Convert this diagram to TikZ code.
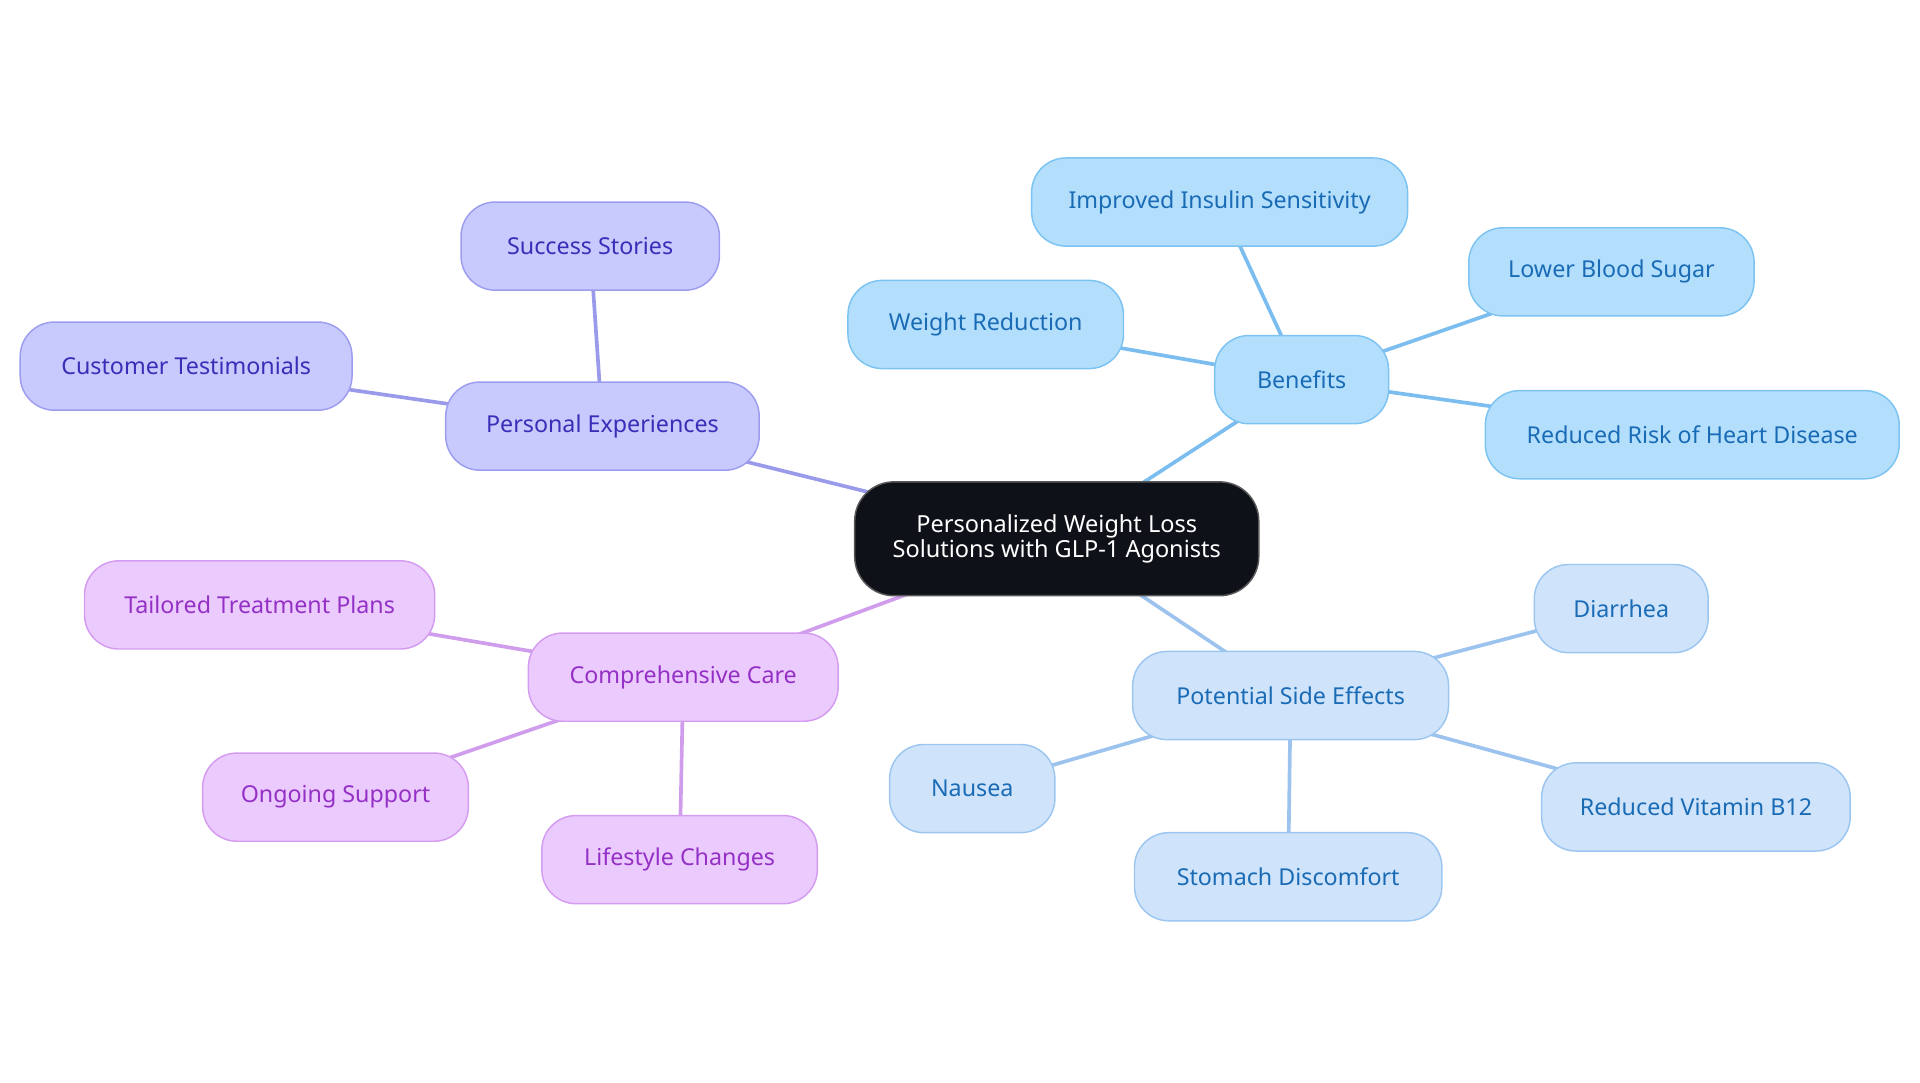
\documentclass[tikz,border=0pt]{standalone}
\usepackage{fontspec}
\setmainfont{Noto Sans}
\usetikzlibrary{backgrounds}
\definecolor{bfill}{HTML}{B3DFFD}
\definecolor{bdraw}{HTML}{7CC3F2}
\definecolor{bline}{HTML}{7BBDEE}
\definecolor{btext}{HTML}{1A6BB5}
\definecolor{sfill}{HTML}{CFE4FB}
\definecolor{sdraw}{HTML}{9CC6F0}
\definecolor{sline}{HTML}{9CC3EE}
\definecolor{pfill}{HTML}{C8C9FD}
\definecolor{pdraw}{HTML}{9D9DF0}
\definecolor{pline}{HTML}{9A9AEA}
\definecolor{ptext}{HTML}{3A2DB8}
\definecolor{cfill}{HTML}{EBCBFD}
\definecolor{cdraw}{HTML}{D49CF0}
\definecolor{cline}{HTML}{CF9DEC}
\definecolor{ctext}{HTML}{9430C6}
\definecolor{rootfill}{HTML}{0E1218}
\tikzset{
  box/.style={rounded corners=28pt, minimum height=72pt, inner sep=0pt, line width=1.2pt, font=\fontsize{19}{23}\selectfont},
  ben/.style={box, fill=bfill, draw=bdraw, text=btext},
  side/.style={box, fill=sfill, draw=sdraw, text=btext},
  pers/.style={box, fill=pfill, draw=pdraw, text=ptext},
  care/.style={box, fill=cfill, draw=cdraw, text=ctext},
  lnb/.style={draw=bline, line width=3pt},
  lns/.style={draw=sline, line width=3pt},
  lnp/.style={draw=pline, line width=3pt},
  lnc/.style={draw=cline, line width=3pt},
}
\begin{document}
\begin{tikzpicture}[x=1pt,y=-1pt]
\useasboundingbox (0,0) rectangle (1568,884);
% nodes
\node[box, fill=rootfill, draw=gray!70!black, text=white, minimum width=330pt, minimum height=93pt, rounded corners=32pt, align=center, font=\fontsize{19.2}{21}\selectfont] (root) at (863,440) {Personalized Weight Loss\\Solutions with GLP-1 Agonists};
\node[ben, minimum width=142pt] (ben) at (1063,310) {Benefits};
\node[ben, minimum width=307pt] (ins) at (996,165) {Improved Insulin Sensitivity};
\node[ben, minimum width=233pt] (lbs) at (1316,222) {Lower Blood Sugar};
\node[ben, minimum width=225pt] (wr) at (805,265) {Weight Reduction};
\node[ben, minimum width=338pt] (hd) at (1382,355) {Reduced Risk of Heart Disease};
\node[side, minimum width=258pt] (pse) at (1054,568) {Potential Side Effects};
\node[side, minimum width=142pt] (dia) at (1324,497) {Diarrhea};
\node[side, minimum width=252pt] (b12) at (1385,659) {Reduced Vitamin B12};
\node[side, minimum width=251pt] (sd) at (1052,716) {Stomach Discomfort};
\node[side, minimum width=135pt] (nau) at (794,644) {Nausea};
\node[pers, minimum width=256pt] (pe) at (492,348) {Personal Experiences};
\node[pers, minimum width=211pt] (ss) at (482,201) {Success Stories};
\node[pers, minimum width=271pt] (ct) at (152,299) {Customer Testimonials};
\node[care, minimum width=253pt] (cc) at (558,553) {Comprehensive Care};
\node[care, minimum width=286pt] (ttp) at (212,494) {Tailored Treatment Plans};
\node[care, minimum width=217pt] (os) at (274,651) {Ongoing Support};
\node[care, minimum width=225pt] (lc) at (555,702) {Lifestyle Changes};
% connectors
\begin{scope}[on background layer]
\draw[lnb] (root.center) -- (ben.center);
\draw[lnb] (ben.center) -- (ins.center);
\draw[lnb] (ben.center) -- (lbs.center);
\draw[lnb] (ben.center) -- (wr.center);
\draw[lnb] (ben.center) -- (hd.center);
\draw[lns] (root.center) -- (pse.center);
\draw[lns] (pse.center) -- (dia.center);
\draw[lns] (pse.center) -- (b12.center);
\draw[lns] (pse.center) -- (sd.center);
\draw[lns] (pse.center) -- (nau.center);
\draw[lnp] (root.center) -- (pe.center);
\draw[lnp] (pe.center) -- (ss.center);
\draw[lnp] (pe.center) -- (ct.center);
\draw[lnc] (root.center) -- (cc.center);
\draw[lnc] (cc.center) -- (ttp.center);
\draw[lnc] (cc.center) -- (os.center);
\draw[lnc] (cc.center) -- (lc.center);
\end{scope}
\end{tikzpicture}
\end{document}
